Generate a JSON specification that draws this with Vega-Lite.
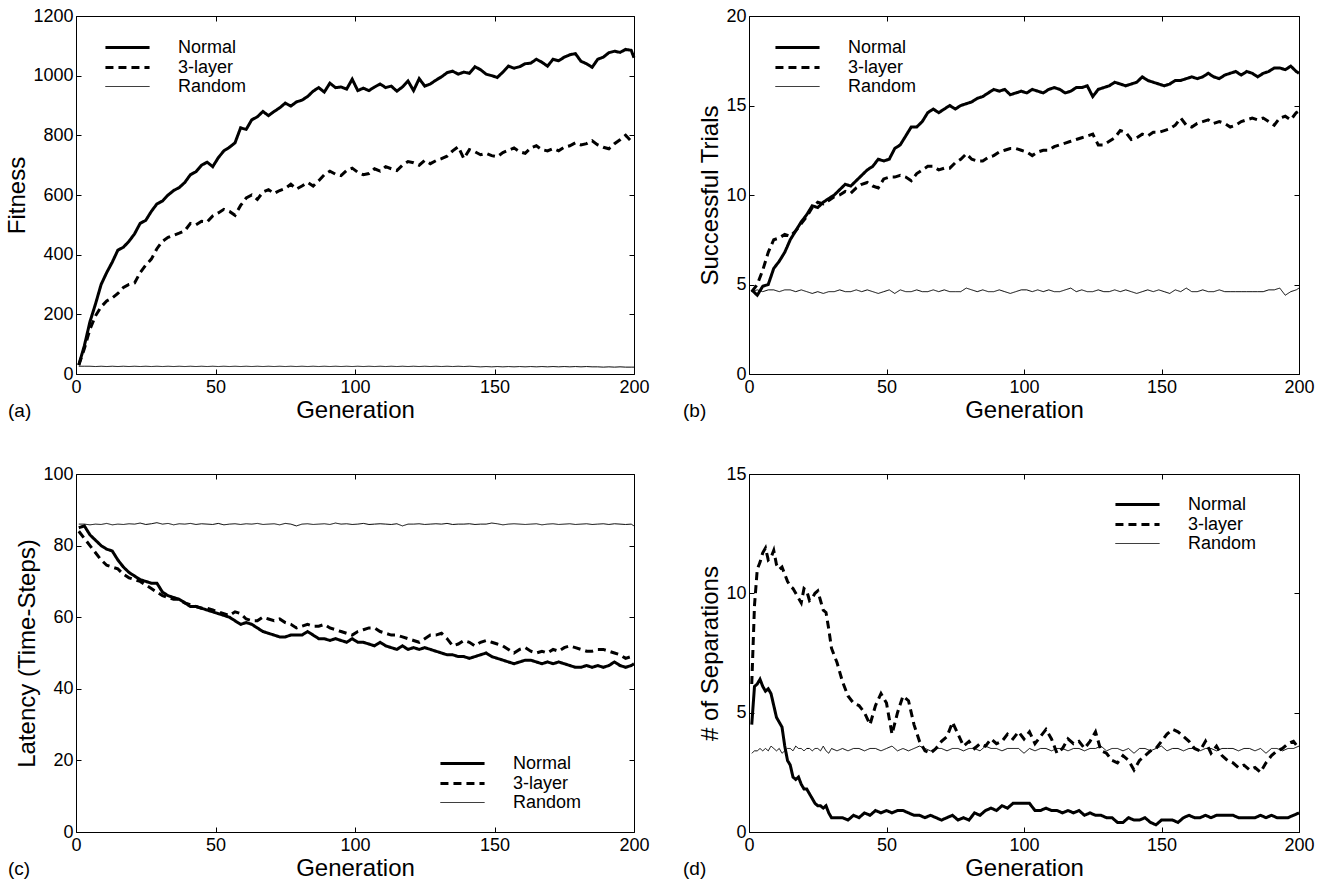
{
"$schema": "https://vega.github.io/schema/vega-lite/v6.json",
"background": "white",
"padding": {"left": 5, "top": 6, "right": 5, "bottom": 0},
"bounds": "flush",
"columns": 2,
"spacing": {"row": 100, "column": 115},
"resolve": {"scale": {"strokeDash": "independent", "strokeWidth": "independent"}, "legend": {"strokeDash": "independent", "strokeWidth": "independent"}},
"datasets": {
"A": [
{"g":1,"Normal":30,"3-layer":30,"Random":26},{"g":3,"Normal":95,"3-layer":85,"Random":26},{"g":5,"Normal":175,"3-layer":150,"Random":26},{"g":7,"Normal":235,"3-layer":195,"Random":25},{"g":9,"Normal":300,"3-layer":225,"Random":26},{"g":11,"Normal":340,"3-layer":245,"Random":25},{"g":13,"Normal":375,"3-layer":255,"Random":26},{"g":15,"Normal":415,"3-layer":270,"Random":25},{"g":17,"Normal":425,"3-layer":290,"Random":26},{"g":19,"Normal":445,"3-layer":300,"Random":25},
{"g":21,"Normal":470,"3-layer":305,"Random":26},{"g":23,"Normal":505,"3-layer":340,"Random":25},{"g":25,"Normal":515,"3-layer":365,"Random":26},{"g":27,"Normal":545,"3-layer":385,"Random":25},{"g":29,"Normal":570,"3-layer":420,"Random":26},{"g":31,"Normal":580,"3-layer":445,"Random":25},{"g":33,"Normal":600,"3-layer":458,"Random":26},{"g":35,"Normal":615,"3-layer":465,"Random":25},{"g":37,"Normal":625,"3-layer":472,"Random":26},{"g":39,"Normal":642,"3-layer":480,"Random":25},
{"g":41,"Normal":668,"3-layer":505,"Random":26},{"g":43,"Normal":678,"3-layer":500,"Random":25},{"g":45,"Normal":700,"3-layer":512,"Random":26},{"g":47,"Normal":710,"3-layer":510,"Random":25},{"g":49,"Normal":695,"3-layer":530,"Random":26},{"g":51,"Normal":725,"3-layer":540,"Random":25},{"g":53,"Normal":748,"3-layer":552,"Random":26},{"g":55,"Normal":760,"3-layer":545,"Random":25},{"g":57,"Normal":775,"3-layer":532,"Random":26},{"g":59,"Normal":825,"3-layer":565,"Random":25},
{"g":61,"Normal":820,"3-layer":590,"Random":26},{"g":63,"Normal":852,"3-layer":600,"Random":25},{"g":65,"Normal":862,"3-layer":585,"Random":26},{"g":67,"Normal":880,"3-layer":610,"Random":25},{"g":69,"Normal":866,"3-layer":618,"Random":26},{"g":71,"Normal":880,"3-layer":605,"Random":25},{"g":73,"Normal":892,"3-layer":615,"Random":26},{"g":75,"Normal":908,"3-layer":622,"Random":25},{"g":77,"Normal":898,"3-layer":636,"Random":26},{"g":79,"Normal":912,"3-layer":620,"Random":25},
{"g":81,"Normal":918,"3-layer":630,"Random":26},{"g":83,"Normal":930,"3-layer":642,"Random":25},{"g":85,"Normal":948,"3-layer":630,"Random":26},{"g":87,"Normal":960,"3-layer":648,"Random":25},{"g":89,"Normal":945,"3-layer":668,"Random":26},{"g":91,"Normal":975,"3-layer":680,"Random":25},{"g":93,"Normal":960,"3-layer":670,"Random":26},{"g":95,"Normal":962,"3-layer":665,"Random":25},{"g":97,"Normal":955,"3-layer":682,"Random":26},{"g":99,"Normal":988,"3-layer":690,"Random":25},
{"g":101,"Normal":950,"3-layer":676,"Random":26},{"g":103,"Normal":958,"3-layer":668,"Random":25},{"g":105,"Normal":950,"3-layer":672,"Random":26},{"g":107,"Normal":962,"3-layer":688,"Random":25},{"g":109,"Normal":972,"3-layer":680,"Random":26},{"g":111,"Normal":960,"3-layer":695,"Random":25},{"g":113,"Normal":965,"3-layer":688,"Random":26},{"g":115,"Normal":948,"3-layer":682,"Random":25},{"g":117,"Normal":962,"3-layer":700,"Random":26},{"g":119,"Normal":982,"3-layer":712,"Random":25},
{"g":121,"Normal":950,"3-layer":708,"Random":26},{"g":123,"Normal":990,"3-layer":700,"Random":25},{"g":125,"Normal":965,"3-layer":716,"Random":26},{"g":127,"Normal":972,"3-layer":705,"Random":25},{"g":129,"Normal":985,"3-layer":715,"Random":26},{"g":131,"Normal":996,"3-layer":722,"Random":25},{"g":133,"Normal":1010,"3-layer":730,"Random":26},{"g":135,"Normal":1015,"3-layer":748,"Random":25},{"g":137,"Normal":1005,"3-layer":762,"Random":26},{"g":139,"Normal":1012,"3-layer":722,"Random":25},
{"g":141,"Normal":1008,"3-layer":752,"Random":26},{"g":143,"Normal":1030,"3-layer":745,"Random":25},{"g":145,"Normal":1020,"3-layer":735,"Random":24},{"g":147,"Normal":1005,"3-layer":740,"Random":25},{"g":149,"Normal":1000,"3-layer":732,"Random":24},{"g":151,"Normal":994,"3-layer":728,"Random":25},{"g":153,"Normal":1012,"3-layer":742,"Random":24},{"g":155,"Normal":1032,"3-layer":750,"Random":25},{"g":157,"Normal":1025,"3-layer":758,"Random":24},{"g":159,"Normal":1030,"3-layer":745,"Random":25},
{"g":161,"Normal":1040,"3-layer":740,"Random":24},{"g":163,"Normal":1042,"3-layer":758,"Random":25},{"g":165,"Normal":1055,"3-layer":765,"Random":24},{"g":167,"Normal":1045,"3-layer":752,"Random":25},{"g":169,"Normal":1032,"3-layer":748,"Random":24},{"g":171,"Normal":1055,"3-layer":756,"Random":25},{"g":173,"Normal":1050,"3-layer":748,"Random":24},{"g":175,"Normal":1062,"3-layer":760,"Random":25},{"g":177,"Normal":1070,"3-layer":765,"Random":24},{"g":179,"Normal":1074,"3-layer":775,"Random":25},
{"g":181,"Normal":1048,"3-layer":768,"Random":24},{"g":183,"Normal":1040,"3-layer":772,"Random":25},{"g":185,"Normal":1028,"3-layer":782,"Random":24},{"g":187,"Normal":1055,"3-layer":768,"Random":24},{"g":189,"Normal":1062,"3-layer":760,"Random":23},{"g":191,"Normal":1077,"3-layer":755,"Random":24},{"g":193,"Normal":1082,"3-layer":772,"Random":23},{"g":195,"Normal":1078,"3-layer":785,"Random":24},{"g":197,"Normal":1088,"3-layer":800,"Random":23},{"g":199,"Normal":1085,"3-layer":780,"Random":23},
{"g":200,"Normal":1060,"3-layer":782,"Random":23}
],
"B": [
{"g":1,"Normal":4.7,"3-layer":4.6,"Random":4.6},{"g":3,"Normal":4.4,"3-layer":5.0,"Random":4.7},{"g":5,"Normal":4.9,"3-layer":5.8,"Random":4.6},{"g":7,"Normal":5.0,"3-layer":6.8,"Random":4.7},{"g":9,"Normal":5.9,"3-layer":7.5,"Random":4.7},{"g":11,"Normal":6.3,"3-layer":7.6,"Random":4.6},{"g":13,"Normal":6.8,"3-layer":7.8,"Random":4.7},{"g":15,"Normal":7.5,"3-layer":7.7,"Random":4.7},{"g":17,"Normal":8.0,"3-layer":8.0,"Random":4.6},{"g":19,"Normal":8.5,"3-layer":8.4,"Random":4.7},
{"g":21,"Normal":8.9,"3-layer":8.8,"Random":4.6},{"g":23,"Normal":9.4,"3-layer":9.3,"Random":4.5},{"g":25,"Normal":9.3,"3-layer":9.6,"Random":4.6},{"g":27,"Normal":9.6,"3-layer":9.5,"Random":4.5},{"g":29,"Normal":9.8,"3-layer":9.7,"Random":4.6},{"g":31,"Normal":10.0,"3-layer":9.9,"Random":4.6},{"g":33,"Normal":10.3,"3-layer":10.0,"Random":4.7},{"g":35,"Normal":10.6,"3-layer":10.2,"Random":4.6},{"g":37,"Normal":10.5,"3-layer":10.1,"Random":4.6},{"g":39,"Normal":10.8,"3-layer":10.4,"Random":4.7},
{"g":41,"Normal":11.1,"3-layer":10.6,"Random":4.6},{"g":43,"Normal":11.4,"3-layer":10.7,"Random":4.7},{"g":45,"Normal":11.6,"3-layer":10.5,"Random":4.6},{"g":47,"Normal":12.0,"3-layer":10.4,"Random":4.5},{"g":49,"Normal":11.9,"3-layer":10.9,"Random":4.6},{"g":51,"Normal":12.0,"3-layer":11.0,"Random":4.7},{"g":53,"Normal":12.6,"3-layer":11.0,"Random":4.5},{"g":55,"Normal":12.8,"3-layer":11.1,"Random":4.7},{"g":57,"Normal":13.3,"3-layer":11.0,"Random":4.6},{"g":59,"Normal":13.8,"3-layer":10.8,"Random":4.6},
{"g":61,"Normal":13.8,"3-layer":11.2,"Random":4.7},{"g":63,"Normal":14.1,"3-layer":11.4,"Random":4.6},{"g":65,"Normal":14.6,"3-layer":11.6,"Random":4.6},{"g":67,"Normal":14.8,"3-layer":11.6,"Random":4.7},{"g":69,"Normal":14.6,"3-layer":11.4,"Random":4.6},{"g":71,"Normal":14.8,"3-layer":11.5,"Random":4.7},{"g":73,"Normal":15.0,"3-layer":11.5,"Random":4.6},{"g":75,"Normal":14.8,"3-layer":11.8,"Random":4.6},{"g":77,"Normal":15.0,"3-layer":12.0,"Random":4.6},{"g":79,"Normal":15.1,"3-layer":12.3,"Random":4.8},
{"g":81,"Normal":15.2,"3-layer":12.0,"Random":4.7},{"g":83,"Normal":15.4,"3-layer":11.9,"Random":4.6},{"g":85,"Normal":15.5,"3-layer":11.9,"Random":4.7},{"g":87,"Normal":15.7,"3-layer":12.1,"Random":4.6},{"g":89,"Normal":15.9,"3-layer":12.2,"Random":4.6},{"g":91,"Normal":15.8,"3-layer":12.4,"Random":4.7},{"g":93,"Normal":15.9,"3-layer":12.5,"Random":4.6},{"g":95,"Normal":15.6,"3-layer":12.6,"Random":4.5},{"g":97,"Normal":15.7,"3-layer":12.6,"Random":4.6},{"g":99,"Normal":15.8,"3-layer":12.5,"Random":4.7},
{"g":101,"Normal":15.7,"3-layer":12.4,"Random":4.7},{"g":103,"Normal":15.9,"3-layer":12.2,"Random":4.6},{"g":105,"Normal":15.8,"3-layer":12.4,"Random":4.7},{"g":107,"Normal":15.7,"3-layer":12.5,"Random":4.6},{"g":109,"Normal":15.9,"3-layer":12.5,"Random":4.7},{"g":111,"Normal":16.0,"3-layer":12.7,"Random":4.6},{"g":113,"Normal":15.9,"3-layer":12.8,"Random":4.6},{"g":115,"Normal":15.7,"3-layer":12.9,"Random":4.7},{"g":117,"Normal":15.8,"3-layer":13.0,"Random":4.8},{"g":119,"Normal":16.0,"3-layer":13.1,"Random":4.6},
{"g":121,"Normal":16.0,"3-layer":13.2,"Random":4.7},{"g":123,"Normal":16.1,"3-layer":13.3,"Random":4.6},{"g":125,"Normal":15.5,"3-layer":13.4,"Random":4.6},{"g":127,"Normal":15.9,"3-layer":12.8,"Random":4.7},{"g":129,"Normal":16.0,"3-layer":12.8,"Random":4.6},{"g":131,"Normal":16.1,"3-layer":13.0,"Random":4.6},{"g":133,"Normal":16.3,"3-layer":13.2,"Random":4.7},{"g":135,"Normal":16.2,"3-layer":13.6,"Random":4.6},{"g":137,"Normal":16.1,"3-layer":13.5,"Random":4.7},{"g":139,"Normal":16.2,"3-layer":13.1,"Random":4.6},
{"g":141,"Normal":16.3,"3-layer":13.2,"Random":4.5},{"g":143,"Normal":16.6,"3-layer":13.4,"Random":4.6},{"g":145,"Normal":16.4,"3-layer":13.3,"Random":4.7},{"g":147,"Normal":16.3,"3-layer":13.5,"Random":4.6},{"g":149,"Normal":16.2,"3-layer":13.5,"Random":4.7},{"g":151,"Normal":16.1,"3-layer":13.6,"Random":4.6},{"g":153,"Normal":16.2,"3-layer":13.7,"Random":4.5},{"g":155,"Normal":16.4,"3-layer":13.9,"Random":4.7},{"g":157,"Normal":16.4,"3-layer":14.3,"Random":4.6},{"g":159,"Normal":16.5,"3-layer":13.9,"Random":4.8},
{"g":161,"Normal":16.6,"3-layer":13.8,"Random":4.6},{"g":163,"Normal":16.5,"3-layer":14.0,"Random":4.6},{"g":165,"Normal":16.6,"3-layer":14.1,"Random":4.7},{"g":167,"Normal":16.8,"3-layer":14.2,"Random":4.6},{"g":169,"Normal":16.6,"3-layer":14.0,"Random":4.6},{"g":171,"Normal":16.5,"3-layer":14.1,"Random":4.7},{"g":173,"Normal":16.7,"3-layer":14.0,"Random":4.6},{"g":175,"Normal":16.8,"3-layer":13.8,"Random":4.6},{"g":177,"Normal":16.9,"3-layer":13.9,"Random":4.6},{"g":179,"Normal":16.7,"3-layer":14.1,"Random":4.6},
{"g":181,"Normal":16.9,"3-layer":14.2,"Random":4.6},{"g":183,"Normal":16.8,"3-layer":14.3,"Random":4.6},{"g":185,"Normal":16.6,"3-layer":14.2,"Random":4.6},{"g":187,"Normal":16.8,"3-layer":14.3,"Random":4.6},{"g":189,"Normal":16.9,"3-layer":14.1,"Random":4.7},{"g":191,"Normal":17.1,"3-layer":13.9,"Random":4.7},{"g":193,"Normal":17.1,"3-layer":14.3,"Random":4.8},{"g":195,"Normal":17.0,"3-layer":14.4,"Random":4.4},{"g":197,"Normal":17.2,"3-layer":14.2,"Random":4.6},{"g":199,"Normal":16.9,"3-layer":14.6,"Random":4.7},
{"g":200,"Normal":16.8,"3-layer":14.7,"Random":4.8}
],
"C": [
{"g":1,"Normal":85,"3-layer":84,"Random":86},{"g":3,"Normal":85.5,"3-layer":82,"Random":86},{"g":5,"Normal":83,"3-layer":80,"Random":85.8},{"g":7,"Normal":81.5,"3-layer":78,"Random":86},{"g":9,"Normal":80,"3-layer":76,"Random":85.9},{"g":11,"Normal":79,"3-layer":74.5,"Random":86.2},{"g":13,"Normal":78.5,"3-layer":74,"Random":85.8},{"g":15,"Normal":76,"3-layer":73.5,"Random":86},{"g":17,"Normal":74,"3-layer":72,"Random":85.9},{"g":19,"Normal":72.5,"3-layer":71,"Random":86.1},
{"g":21,"Normal":71.5,"3-layer":70.5,"Random":86},{"g":23,"Normal":70.5,"3-layer":70,"Random":86.3},{"g":25,"Normal":70,"3-layer":69,"Random":85.9},{"g":27,"Normal":69.5,"3-layer":68,"Random":86.1},{"g":29,"Normal":69.5,"3-layer":67,"Random":86.4},{"g":31,"Normal":67,"3-layer":66,"Random":86},{"g":33,"Normal":66,"3-layer":65.5,"Random":86.2},{"g":35,"Normal":65.5,"3-layer":65,"Random":85.8},{"g":37,"Normal":65,"3-layer":65,"Random":86.1},{"g":39,"Normal":64,"3-layer":64,"Random":86},
{"g":41,"Normal":63,"3-layer":63.5,"Random":86.2},{"g":43,"Normal":63,"3-layer":63,"Random":85.9},{"g":45,"Normal":62.5,"3-layer":62.5,"Random":86.1},{"g":47,"Normal":62,"3-layer":62.5,"Random":86},{"g":49,"Normal":61.5,"3-layer":62,"Random":85.9},{"g":51,"Normal":61,"3-layer":61.5,"Random":86.2},{"g":53,"Normal":60.5,"3-layer":61,"Random":85.8},{"g":55,"Normal":60,"3-layer":60.5,"Random":86},{"g":57,"Normal":59,"3-layer":61.5,"Random":86.1},{"g":59,"Normal":58,"3-layer":61,"Random":85.9},
{"g":61,"Normal":58.5,"3-layer":59.5,"Random":86.1},{"g":63,"Normal":58,"3-layer":59,"Random":86},{"g":65,"Normal":57,"3-layer":59,"Random":86.2},{"g":67,"Normal":56,"3-layer":60,"Random":85.9},{"g":69,"Normal":55.5,"3-layer":59.5,"Random":86},{"g":71,"Normal":55,"3-layer":59,"Random":86.1},{"g":73,"Normal":54.5,"3-layer":59.5,"Random":85.8},{"g":75,"Normal":54.5,"3-layer":58.5,"Random":86.2},{"g":77,"Normal":55,"3-layer":58,"Random":86},{"g":79,"Normal":55,"3-layer":57,"Random":85.5},
{"g":81,"Normal":55,"3-layer":57.5,"Random":86},{"g":83,"Normal":56,"3-layer":58,"Random":86.1},{"g":85,"Normal":55,"3-layer":57.5,"Random":85.9},{"g":87,"Normal":54,"3-layer":57.5,"Random":86},{"g":89,"Normal":54,"3-layer":58,"Random":86.1},{"g":91,"Normal":53.5,"3-layer":57,"Random":85.9},{"g":93,"Normal":54,"3-layer":56.5,"Random":86.3},{"g":95,"Normal":53.5,"3-layer":56,"Random":86},{"g":97,"Normal":53,"3-layer":55.5,"Random":86.1},{"g":99,"Normal":54,"3-layer":55,"Random":85.9},
{"g":101,"Normal":53,"3-layer":56,"Random":86},{"g":103,"Normal":53,"3-layer":56.5,"Random":86.2},{"g":105,"Normal":52.5,"3-layer":57,"Random":85.9},{"g":107,"Normal":52,"3-layer":57,"Random":86},{"g":109,"Normal":53,"3-layer":56,"Random":86.1},{"g":111,"Normal":52,"3-layer":55.5,"Random":86},{"g":113,"Normal":51.5,"3-layer":55,"Random":85.9},{"g":115,"Normal":51,"3-layer":55,"Random":86.1},{"g":117,"Normal":52,"3-layer":54.5,"Random":85.5},{"g":119,"Normal":51,"3-layer":54,"Random":86},
{"g":121,"Normal":51.5,"3-layer":53.5,"Random":86},{"g":123,"Normal":51,"3-layer":53,"Random":86.1},{"g":125,"Normal":51.5,"3-layer":54,"Random":85.9},{"g":127,"Normal":51,"3-layer":55,"Random":86},{"g":129,"Normal":50.5,"3-layer":55,"Random":86.1},{"g":131,"Normal":50,"3-layer":55.5,"Random":86},{"g":133,"Normal":49.5,"3-layer":54,"Random":86.2},{"g":135,"Normal":49.5,"3-layer":52,"Random":85.9},{"g":137,"Normal":49,"3-layer":52.5,"Random":86},{"g":139,"Normal":49,"3-layer":53.5,"Random":86},
{"g":141,"Normal":48.5,"3-layer":53,"Random":86.1},{"g":143,"Normal":49,"3-layer":52,"Random":85.9},{"g":145,"Normal":49.5,"3-layer":53,"Random":86},{"g":147,"Normal":50,"3-layer":53.5,"Random":86},{"g":149,"Normal":49,"3-layer":53,"Random":86.3},{"g":151,"Normal":48.5,"3-layer":52.5,"Random":86.1},{"g":153,"Normal":48,"3-layer":52,"Random":85.8},{"g":155,"Normal":47.5,"3-layer":51,"Random":86},{"g":157,"Normal":47,"3-layer":50,"Random":86.1},{"g":159,"Normal":47.5,"3-layer":51,"Random":86},
{"g":161,"Normal":48,"3-layer":51.5,"Random":85.9},{"g":163,"Normal":48,"3-layer":50.5,"Random":86},{"g":165,"Normal":47.5,"3-layer":50,"Random":86.1},{"g":167,"Normal":47,"3-layer":50.5,"Random":85.8},{"g":169,"Normal":47.5,"3-layer":50,"Random":86},{"g":171,"Normal":47,"3-layer":51,"Random":86.1},{"g":173,"Normal":47.5,"3-layer":50.5,"Random":85.9},{"g":175,"Normal":47,"3-layer":51.5,"Random":86},{"g":177,"Normal":46.5,"3-layer":52,"Random":86.1},{"g":179,"Normal":46,"3-layer":51.5,"Random":85.9},
{"g":181,"Normal":46,"3-layer":51,"Random":86},{"g":183,"Normal":46.5,"3-layer":50.5,"Random":86.1},{"g":185,"Normal":46,"3-layer":50.5,"Random":85.9},{"g":187,"Normal":46.5,"3-layer":51,"Random":86},{"g":189,"Normal":46,"3-layer":51,"Random":86.1},{"g":191,"Normal":46.5,"3-layer":50.5,"Random":85.9},{"g":193,"Normal":47.5,"3-layer":50,"Random":86.1},{"g":195,"Normal":46.5,"3-layer":49.5,"Random":86},{"g":197,"Normal":46,"3-layer":48.5,"Random":85.9},{"g":199,"Normal":46.5,"3-layer":49,"Random":86},
{"g":200,"Normal":47,"3-layer":49.5,"Random":85.5}
],
"D": [
{"g":1,"Normal":4.5,"3-layer":6.2,"Random":3.3},{"g":2,"Normal":6.1,"3-layer":9.5,"Random":3.4},{"g":3,"Normal":6.2,"3-layer":11.0,"Random":3.4},{"g":4,"Normal":6.4,"3-layer":11.3,"Random":3.5},{"g":5,"Normal":6.1,"3-layer":11.7,"Random":3.4},{"g":6,"Normal":5.9,"3-layer":11.9,"Random":3.5},{"g":7,"Normal":6.0,"3-layer":11.4,"Random":3.4},{"g":8,"Normal":5.8,"3-layer":11.5,"Random":3.6},{"g":9,"Normal":5.3,"3-layer":11.8,"Random":3.5},{"g":10,"Normal":4.8,"3-layer":11.2,"Random":3.4},
{"g":11,"Normal":4.6,"3-layer":11.0,"Random":3.5},{"g":12,"Normal":4.4,"3-layer":11.1,"Random":3.3},{"g":13,"Normal":3.6,"3-layer":10.8,"Random":3.4},{"g":14,"Normal":3.0,"3-layer":10.5,"Random":3.5},{"g":15,"Normal":2.8,"3-layer":10.3,"Random":3.5},{"g":16,"Normal":2.3,"3-layer":10.2,"Random":3.4},{"g":17,"Normal":2.2,"3-layer":10.0,"Random":3.6},{"g":18,"Normal":2.3,"3-layer":9.8,"Random":3.5},{"g":19,"Normal":2.0,"3-layer":9.6,"Random":3.5},{"g":20,"Normal":1.8,"3-layer":10.2,"Random":3.4},
{"g":21,"Normal":1.8,"3-layer":10.1,"Random":3.5},{"g":22,"Normal":1.6,"3-layer":9.7,"Random":3.5},{"g":23,"Normal":1.4,"3-layer":9.8,"Random":3.4},{"g":24,"Normal":1.2,"3-layer":10.0,"Random":3.5},{"g":25,"Normal":1.1,"3-layer":10.1,"Random":3.5},{"g":26,"Normal":1.1,"3-layer":9.7,"Random":3.4},{"g":27,"Normal":1.0,"3-layer":9.3,"Random":3.6},{"g":28,"Normal":1.1,"3-layer":9.2,"Random":3.4},{"g":29,"Normal":0.8,"3-layer":8.5,"Random":3.3},{"g":30,"Normal":0.6,"3-layer":7.7,"Random":3.5},
{"g":32,"Normal":0.6,"3-layer":7.1,"Random":3.4},{"g":34,"Normal":0.6,"3-layer":6.3,"Random":3.5},{"g":36,"Normal":0.5,"3-layer":5.7,"Random":3.4},{"g":38,"Normal":0.7,"3-layer":5.4,"Random":3.5},{"g":40,"Normal":0.6,"3-layer":5.3,"Random":3.5},{"g":42,"Normal":0.8,"3-layer":5.0,"Random":3.4},{"g":44,"Normal":0.7,"3-layer":4.5,"Random":3.5},{"g":46,"Normal":0.9,"3-layer":5.3,"Random":3.5},{"g":48,"Normal":0.8,"3-layer":5.8,"Random":3.4},{"g":50,"Normal":0.9,"3-layer":5.4,"Random":3.5},
{"g":52,"Normal":0.8,"3-layer":4.1,"Random":3.6},{"g":54,"Normal":0.9,"3-layer":5.0,"Random":3.4},{"g":56,"Normal":0.9,"3-layer":5.7,"Random":3.5},{"g":58,"Normal":0.8,"3-layer":5.5,"Random":3.4},{"g":60,"Normal":0.7,"3-layer":4.5,"Random":3.5},{"g":62,"Normal":0.7,"3-layer":3.8,"Random":3.6},{"g":64,"Normal":0.6,"3-layer":3.4,"Random":3.5},{"g":66,"Normal":0.7,"3-layer":3.3,"Random":3.4},{"g":68,"Normal":0.6,"3-layer":3.5,"Random":3.5},{"g":70,"Normal":0.5,"3-layer":3.8,"Random":3.5},
{"g":72,"Normal":0.6,"3-layer":4.0,"Random":3.4},{"g":74,"Normal":0.7,"3-layer":4.6,"Random":3.5},{"g":76,"Normal":0.5,"3-layer":4.1,"Random":3.5},{"g":78,"Normal":0.6,"3-layer":3.6,"Random":3.4},{"g":80,"Normal":0.5,"3-layer":3.8,"Random":3.5},{"g":82,"Normal":0.8,"3-layer":3.5,"Random":3.5},{"g":84,"Normal":0.7,"3-layer":3.7,"Random":3.4},{"g":86,"Normal":0.9,"3-layer":3.6,"Random":3.6},{"g":88,"Normal":1.0,"3-layer":3.9,"Random":3.5},{"g":90,"Normal":0.9,"3-layer":3.7,"Random":3.5},
{"g":92,"Normal":1.1,"3-layer":3.8,"Random":3.4},{"g":94,"Normal":1.0,"3-layer":4.1,"Random":3.5},{"g":96,"Normal":1.2,"3-layer":3.9,"Random":3.5},{"g":98,"Normal":1.2,"3-layer":4.2,"Random":3.5},{"g":100,"Normal":1.2,"3-layer":3.9,"Random":3.3},{"g":102,"Normal":1.2,"3-layer":4.2,"Random":3.5},{"g":104,"Normal":0.9,"3-layer":3.7,"Random":3.4},{"g":106,"Normal":0.9,"3-layer":4.0,"Random":3.5},{"g":108,"Normal":1.0,"3-layer":4.3,"Random":3.5},{"g":110,"Normal":0.9,"3-layer":3.9,"Random":3.4},
{"g":112,"Normal":0.9,"3-layer":3.3,"Random":3.5},{"g":114,"Normal":0.8,"3-layer":3.5,"Random":3.5},{"g":116,"Normal":0.9,"3-layer":3.9,"Random":3.4},{"g":118,"Normal":0.8,"3-layer":3.7,"Random":3.5},{"g":120,"Normal":0.9,"3-layer":3.8,"Random":3.5},{"g":122,"Normal":0.7,"3-layer":3.5,"Random":3.4},{"g":124,"Normal":0.8,"3-layer":3.8,"Random":3.5},{"g":126,"Normal":0.7,"3-layer":4.2,"Random":3.5},{"g":128,"Normal":0.7,"3-layer":3.4,"Random":3.6},{"g":130,"Normal":0.6,"3-layer":3.3,"Random":3.4},
{"g":132,"Normal":0.6,"3-layer":3.0,"Random":3.5},{"g":134,"Normal":0.4,"3-layer":2.9,"Random":3.5},{"g":136,"Normal":0.4,"3-layer":3.2,"Random":3.4},{"g":138,"Normal":0.6,"3-layer":3.0,"Random":3.5},{"g":140,"Normal":0.5,"3-layer":2.6,"Random":3.3},{"g":142,"Normal":0.5,"3-layer":3.0,"Random":3.5},{"g":144,"Normal":0.6,"3-layer":3.2,"Random":3.5},{"g":146,"Normal":0.4,"3-layer":3.4,"Random":3.4},{"g":148,"Normal":0.3,"3-layer":3.5,"Random":3.5},{"g":150,"Normal":0.5,"3-layer":3.8,"Random":3.6},
{"g":152,"Normal":0.5,"3-layer":4.1,"Random":3.4},{"g":154,"Normal":0.5,"3-layer":4.3,"Random":3.5},{"g":156,"Normal":0.4,"3-layer":4.2,"Random":3.5},{"g":158,"Normal":0.6,"3-layer":4.0,"Random":3.4},{"g":160,"Normal":0.7,"3-layer":3.8,"Random":3.5},{"g":162,"Normal":0.6,"3-layer":3.5,"Random":3.5},{"g":164,"Normal":0.6,"3-layer":3.4,"Random":3.4},{"g":166,"Normal":0.7,"3-layer":3.8,"Random":3.5},{"g":168,"Normal":0.6,"3-layer":3.3,"Random":3.5},{"g":170,"Normal":0.7,"3-layer":3.6,"Random":3.4},
{"g":172,"Normal":0.7,"3-layer":3.2,"Random":3.5},{"g":174,"Normal":0.7,"3-layer":3.0,"Random":3.5},{"g":176,"Normal":0.7,"3-layer":2.9,"Random":3.5},{"g":178,"Normal":0.6,"3-layer":2.7,"Random":3.4},{"g":180,"Normal":0.6,"3-layer":2.8,"Random":3.5},{"g":182,"Normal":0.6,"3-layer":2.6,"Random":3.5},{"g":184,"Normal":0.6,"3-layer":2.7,"Random":3.4},{"g":186,"Normal":0.7,"3-layer":2.5,"Random":3.5},{"g":188,"Normal":0.6,"3-layer":2.9,"Random":3.3},{"g":190,"Normal":0.7,"3-layer":3.2,"Random":3.5},
{"g":192,"Normal":0.6,"3-layer":3.4,"Random":3.5},{"g":194,"Normal":0.6,"3-layer":3.5,"Random":3.4},{"g":196,"Normal":0.6,"3-layer":3.7,"Random":3.5},{"g":198,"Normal":0.7,"3-layer":3.8,"Random":3.5},{"g":200,"Normal":0.8,"3-layer":3.5,"Random":3.6}
]
},
"concat": [
{"width": 558, "height": 358, "data": {"name": "A"},
 "transform": [{"fold": ["Normal", "3-layer", "Random"], "as": ["series", "value"]}],
 "title": {"text": "(a)", "orient": "bottom", "anchor": "start", "frame": "group", "dx": -68, "offset": -20},
 "resolve": {"axis": {"x": "independent", "y": "independent"}},
 "layer": [
  {"mark": {"type": "line", "color": "black"},
   "encoding": {
    "x": {"field": "g", "type": "quantitative", "scale": {"domain": [0, 200], "nice": false, "zero": false}, "axis": {"title": "Generation", "values": [0, 50, 100, 150, 200], "format": "d"}},
    "y": {"field": "value", "type": "quantitative", "scale": {"domain": [0, 1200], "nice": false}, "axis": {"title": "Fitness", "values": [0, 200, 400, 600, 800, 1000, 1200], "format": "d"}},
    "strokeDash": {"field": "series", "type": "nominal", "scale": {"domain": ["Normal", "3-layer", "Random"], "range": [[1, 0], [8, 5], [1, 0]]}, "legend": {"title": null, "orient": "none", "legendX": 41, "legendY": 21}},
    "strokeWidth": {"field": "series", "type": "nominal", "scale": {"type": "ordinal", "domain": ["Normal", "3-layer", "Random"], "range": [3, 3, 1]}, "legend": {"title": null, "orient": "none", "legendX": 41, "legendY": 21}}
   }},
  {"mark": {"type": "point", "opacity": 0},
   "encoding": {
    "x": {"field": "g", "type": "quantitative", "axis": {"orient": "top", "labels": false, "title": null, "values": [0, 50, 100, 150, 200]}},
    "y": {"field": "value", "type": "quantitative", "axis": {"orient": "right", "labels": false, "title": null, "values": [0, 200, 400, 600, 800, 1000, 1200]}}
   }}
 ]},
{"width": 550, "height": 358, "data": {"name": "B"},
 "transform": [{"fold": ["Normal", "3-layer", "Random"], "as": ["series", "value"]}],
 "title": {"text": "(b)", "orient": "bottom", "anchor": "start", "frame": "group", "dx": -66, "offset": -20},
 "resolve": {"axis": {"x": "independent", "y": "independent"}},
 "layer": [
  {"mark": {"type": "line", "color": "black"},
   "encoding": {
    "x": {"field": "g", "type": "quantitative", "scale": {"domain": [0, 200], "nice": false, "zero": false}, "axis": {"title": "Generation", "values": [0, 50, 100, 150, 200], "format": "d"}},
    "y": {"field": "value", "type": "quantitative", "scale": {"domain": [0, 20], "nice": false}, "axis": {"title": "Successful Trials", "values": [0, 5, 10, 15, 20], "format": "d"}},
    "strokeDash": {"field": "series", "type": "nominal", "scale": {"domain": ["Normal", "3-layer", "Random"], "range": [[1, 0], [8, 5], [1, 0]]}, "legend": {"title": null, "orient": "none", "legendX": 38, "legendY": 21}},
    "strokeWidth": {"field": "series", "type": "nominal", "scale": {"type": "ordinal", "domain": ["Normal", "3-layer", "Random"], "range": [3, 3, 1]}, "legend": {"title": null, "orient": "none", "legendX": 38, "legendY": 21}}
   }},
  {"mark": {"type": "point", "opacity": 0},
   "encoding": {
    "x": {"field": "g", "type": "quantitative", "axis": {"orient": "top", "labels": false, "title": null, "values": [0, 50, 100, 150, 200]}},
    "y": {"field": "value", "type": "quantitative", "axis": {"orient": "right", "labels": false, "title": null, "values": [0, 5, 10, 15, 20]}}
   }}
 ]},
{"width": 558, "height": 358, "data": {"name": "C"},
 "transform": [{"fold": ["Normal", "3-layer", "Random"], "as": ["series", "value"]}],
 "title": {"text": "(c)", "orient": "bottom", "anchor": "start", "frame": "group", "dx": -68, "offset": -20},
 "resolve": {"axis": {"x": "independent", "y": "independent"}},
 "layer": [
  {"mark": {"type": "line", "color": "black"},
   "encoding": {
    "x": {"field": "g", "type": "quantitative", "scale": {"domain": [0, 200], "nice": false, "zero": false}, "axis": {"title": "Generation", "values": [0, 50, 100, 150, 200], "format": "d"}},
    "y": {"field": "value", "type": "quantitative", "scale": {"domain": [0, 100], "nice": false}, "axis": {"title": "Latency (Time-Steps)", "values": [0, 20, 40, 60, 80, 100], "format": "d"}},
    "strokeDash": {"field": "series", "type": "nominal", "scale": {"domain": ["Normal", "3-layer", "Random"], "range": [[1, 0], [8, 5], [1, 0]]}, "legend": {"title": null, "orient": "none", "legendX": 376, "legendY": 279}},
    "strokeWidth": {"field": "series", "type": "nominal", "scale": {"type": "ordinal", "domain": ["Normal", "3-layer", "Random"], "range": [3, 3, 1]}, "legend": {"title": null, "orient": "none", "legendX": 376, "legendY": 279}}
   }},
  {"mark": {"type": "point", "opacity": 0},
   "encoding": {
    "x": {"field": "g", "type": "quantitative", "axis": {"orient": "top", "labels": false, "title": null, "values": [0, 50, 100, 150, 200]}},
    "y": {"field": "value", "type": "quantitative", "axis": {"orient": "right", "labels": false, "title": null, "values": [0, 20, 40, 60, 80, 100]}}
   }}
 ]},
{"width": 550, "height": 358, "data": {"name": "D"},
 "transform": [{"fold": ["Normal", "3-layer", "Random"], "as": ["series", "value"]}],
 "title": {"text": "(d)", "orient": "bottom", "anchor": "start", "frame": "group", "dx": -66, "offset": -20},
 "resolve": {"axis": {"x": "independent", "y": "independent"}},
 "layer": [
  {"mark": {"type": "line", "color": "black"},
   "encoding": {
    "x": {"field": "g", "type": "quantitative", "scale": {"domain": [0, 200], "nice": false, "zero": false}, "axis": {"title": "Generation", "values": [0, 50, 100, 150, 200], "format": "d"}},
    "y": {"field": "value", "type": "quantitative", "scale": {"domain": [0, 15], "nice": false}, "axis": {"title": "# of Separations", "values": [0, 5, 10, 15], "format": "d"}},
    "strokeDash": {"field": "series", "type": "nominal", "scale": {"domain": ["Normal", "3-layer", "Random"], "range": [[1, 0], [8, 5], [1, 0]]}, "legend": {"title": null, "orient": "none", "legendX": 378, "legendY": 20}},
    "strokeWidth": {"field": "series", "type": "nominal", "scale": {"type": "ordinal", "domain": ["Normal", "3-layer", "Random"], "range": [3, 3, 1]}, "legend": {"title": null, "orient": "none", "legendX": 378, "legendY": 20}}
   }},
  {"mark": {"type": "point", "opacity": 0},
   "encoding": {
    "x": {"field": "g", "type": "quantitative", "axis": {"orient": "top", "labels": false, "title": null, "values": [0, 50, 100, 150, 200]}},
    "y": {"field": "value", "type": "quantitative", "axis": {"orient": "right", "labels": false, "title": null, "values": [0, 5, 10, 15]}}
   }}
 ]}
],
"config": {
 "font": "Liberation Sans",
 "view": {"stroke": "#000000", "strokeWidth": 1},
 "axis": {"domain": false, "grid": false, "ticks": true, "tickSize": -5, "tickColor": "#000000", "tickWidth": 1,
  "labelFont": "Liberation Sans", "labelFontSize": 18, "labelColor": "#000000", "labelFlush": false, "labelOverlap": false,
  "titleFont": "Liberation Sans", "titleFontSize": 24, "titleFontWeight": "normal", "titleColor": "#000000"},
 "axisX": {"labelPadding": 9, "titlePadding": 2},
 "axisY": {"labelPadding": 8, "titlePadding": 3},
 "legend": {"labelFont": "Liberation Sans", "labelFontSize": 18, "labelColor": "#000000", "symbolSize": 324, "symbolStrokeColor": "#000000", "symbolType": "M-2.45,0L2.45,0", "labelOffset": 40, "padding": 0, "rowPadding": 0},
 "title": {"font": "Liberation Sans", "fontSize": 19, "fontWeight": "normal", "color": "#000000"}
}
}
